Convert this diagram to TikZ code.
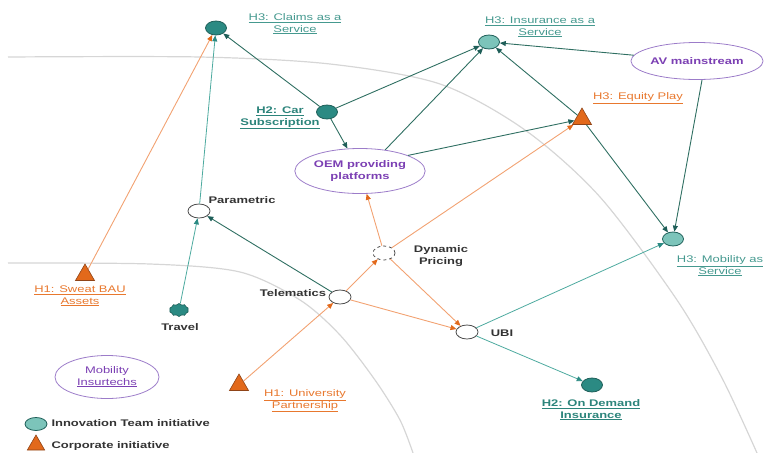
\documentclass[tikz,border=0pt]{standalone}
\usepackage{fontspec}
\setmainfont{Liberation Sans}[FakeStretch=1.35]
\usetikzlibrary{arrows.meta,shapes.geometric,shapes.symbols}

\definecolor{tealdark}{HTML}{2B8A83}
\definecolor{teallight}{HTML}{7CC4BA}
\definecolor{tealedge}{HTML}{1E5E58}
\definecolor{tealline}{HTML}{2F6F62}
\definecolor{teallink}{HTML}{4DAA9F}
\definecolor{tealtext}{HTML}{45998F}
\definecolor{tealbold}{HTML}{2C847B}
\definecolor{orangefill}{HTML}{E2691B}
\definecolor{orangeedge}{HTML}{8F4418}
\definecolor{orangeline}{HTML}{F2A272}
\definecolor{orangetext}{HTML}{E8782E}
\definecolor{purpletext}{HTML}{7B3FB3}
\definecolor{purpleline}{HTML}{9C7CC9}
\definecolor{arcgray}{HTML}{D6D6D6}

\begin{document}
\begin{tikzpicture}[x=1pt,y=-1pt,font=\fontsize{9.6}{11.5}\selectfont,
	initiative/.style={ellipse,draw=tealedge,line width=0.8pt,minimum width=21pt,minimum height=14pt,inner sep=0pt},
	innov/.style={initiative,fill=tealdark},
	innovlight/.style={initiative,fill=teallight},
	corporate/.style={regular polygon,regular polygon sides=3,fill=orangefill,draw=orangeedge,line width=0.6pt,minimum size=22pt,inner sep=0pt},
	hub/.style={ellipse,draw=black!70,fill=white,line width=0.8pt,minimum width=22pt,minimum height=14pt,inner sep=0pt},
	theme/.style={ellipse,draw=purpleline,line width=0.8pt,text=purpletext,font=\fontsize{9.6}{11.5}\selectfont\bfseries,align=center,inner sep=0pt},
	tlabel/.style={text=tealtext,align=center},
	hlabel/.style={text=tealbold,align=center,font=\fontsize{9.6}{11.5}\selectfont\bfseries},
	olabel/.style={text=orangetext,align=center},
	plain/.style={text=black!80,align=center,font=\fontsize{9.6}{11.5}\selectfont\bfseries},
	main/.style={draw=tealline,line width=0.9pt,-{Triangle[length=6pt,width=5pt,color=tealedge]}},
	link/.style={draw=teallink,line width=0.8pt,-{Triangle[length=6pt,width=5pt,color=tealdark]}},
	corp/.style={draw=orangeline,line width=0.9pt,-{Triangle[length=6pt,width=5pt,color=orangefill]}}]
	
	\useasboundingbox (0,0) rectangle (764,453);
	
	\draw [arcgray,line width=1.2pt] plot [smooth] coordinates {(8,57) (200,57) (330,64) (440,84) (525,130) (600,197) (677,300) (722,378) (757,453)};
	
	\draw [arcgray,line width=1.2pt] plot [smooth] coordinates {(8,263) (150,264) (240,272) (300,300) (340,335) (375,380) (400,420) (413,453)};
	
	\node [innov] (claims) at (216,28) {};
	\node [tlabel] (claimslbl) at (295,24) {\underline{H3: Claims as a}\\\underline{Service}};
	
	\node [innovlight] (insurance) at (489,42) {};
	\node [tlabel] (insurancelbl) at (540,27) {\underline{H3: Insurance as a}\\\underline{Service}};
	
	\node [theme,minimum width=118pt,minimum height=37pt] (av) at (697,61) {AV mainstream};
	
	\node [innov] (carsub) at (327,112) {};
	\node [hlabel] (carsublbl) at (280,118) {\underline{H2: Car}\\\underline{Subscription}};
	
	\node [corporate] (equity) at (582,119) {};
	\node [olabel] (equitylbl) at (638,98) {\underline{H3: Equity Play}};
	
	\node [theme,minimum width=120pt,minimum height=45pt] (oem) at (360,171) {OEM providing\\platforms};
	
	\node [hub] (parametric) at (199,211) {};
	\node [plain] (parametriclbl) at (242,200) {Parametric};
	
	\node [hub,dashed] (dynamic) at (384,253) {};
	\node [plain] (dynamiclbl) at (441,256) {Dynamic\\Pricing};
	
	\node [innovlight] (maas) at (673,239) {};
	\node [tlabel] (maaslbl) at (720,266) {\underline{H3: Mobility as}\\\underline{Service}};
	
	\node [corporate] (sweat) at (85,275) {};
	\node [olabel] (sweatlbl) at (80,296) {\underline{H1: Sweat BAU}\\\underline{Assets}};
	
	\node [cloud,cloud puffs=10,cloud puff arc=120,aspect=1.3,fill=tealdark,draw=tealedge,line width=0.6pt,minimum width=19pt,minimum height=13pt,inner sep=0pt] (travel) at (179,310) {};
	\node [plain] (travellbl) at (180,327) {Travel};
	
	\node [hub] (telematics) at (340,297) {};
	\node [plain] (telematicslbl) at (293,293) {Telematics};
	
	\node [hub] (ubi) at (467,332) {};
	\node [plain] (ubilbl) at (502,333) {UBI};
	
	\node [theme,font=\fontsize{9.6}{11.5}\selectfont,minimum width=104pt,minimum height=43pt] (insurtechs) at (107,377) {Mobility\\\underline{Insurtechs}};
	
	\node [corporate] (university) at (239,385) {};
	\node [olabel] (universitylbl) at (305,401) {\underline{H1: University}\\\underline{Partnership}};
	
	\node [innov] (ondemand) at (592,385) {};
	\node [hlabel] (ondemandlbl) at (591,410) {\underline{H2: On Demand}\\\underline{Insurance}};
	
	\node [innovlight,minimum width=22pt,minimum height=13pt] (keyteam) at (36,424) {};
	\node [plain,anchor=west] (keyteamlbl) at (48,423) {Innovation Team initiative};
	\node [corporate,minimum size=20pt] (keycorp) at (36,445) {};
	\node [plain,anchor=west] (keycorplbl) at (48,446) {Corporate initiative};
	
	\draw [main] (carsub) -- (claims);
	\draw [main] (carsub) -- (insurance);
	\draw [main] (carsub) -- (oem);
	\draw [main] (oem.40) -- (insurance);
	\draw [main] (oem.18) -- (equity);
	\draw [main] (equity) -- (insurance);
	\draw [main] (av) -- (insurance);
	\draw [main] (equity) -- (maas);
	\draw [main] (av.-75) -- (maas);
	\draw [main] (telematics) -- (parametric);
	
	\draw [link] (travel) -- (parametric);
	\draw [link] (parametric) -- (claims);
	\draw [link] (ubi) -- (maas);
	\draw [link] (ubi) -- (ondemand);
	
	\draw [corp] (sweat) -- (claims);
	\draw [corp] (university) -- (telematics);
	\draw [corp] (telematics) -- (dynamic);
	\draw [corp] (dynamic) -- (oem);
	\draw [corp] (dynamic) -- (equity);
	\draw [corp] (dynamic) -- (ubi);
	\draw [corp] (telematics) -- (ubi);
	
\end{tikzpicture}
\end{document}
